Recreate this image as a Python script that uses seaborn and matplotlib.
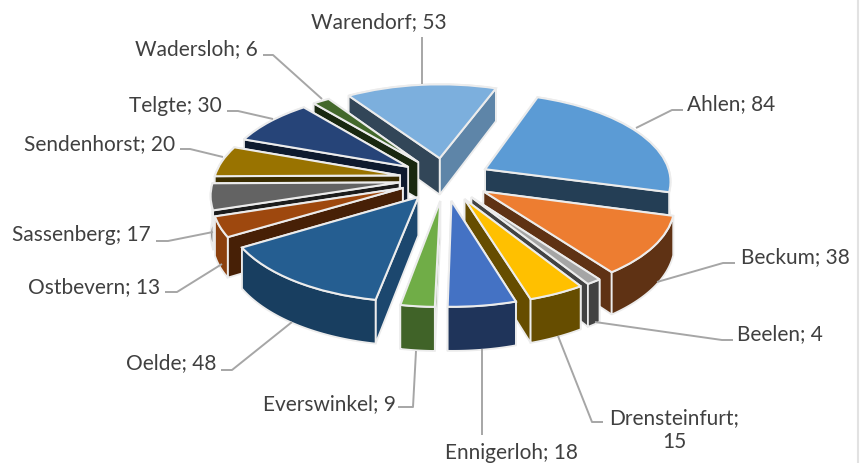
import numpy as np
import matplotlib
matplotlib.use("Agg")
import matplotlib.pyplot as plt
from matplotlib.transforms import Transform
import seaborn as sns

categories = ["Ahlen", "Beckum", "Beelen", "Drensteinfurt", "Ennigerloh", "Everswinkel", "Oelde",
              "Ostbevern", "Sassenberg", "Sendenhorst", "Telgte", "Wadersloh", "Warendorf"]
values = [84, 38, 4, 15, 18, 9, 48, 13, 17, 20, 30, 6, 53]
top_colors = ["#5B9BD5", "#ED7D31", "#A5A5A5", "#FFC000", "#4472C4", "#70AD47", "#255E91",
              "#9E480E", "#636363", "#997300", "#264478", "#43682B", "#7CAFDD"]
side_factors = [0.40, 0.40, 0.40, 0.40, 0.46, 0.57, 0.66, 0.45, 0.28, 0.38, 0.38, 0.38, 0.40]
arc_factors = [0.40, 0.40, 0.40, 0.40, 0.46, 0.57, 0.66, 0.88, 0.50, 0.50, 0.50, 0.50, 0.40]
label_texts = ["Warendorf; 53", "Ahlen; 84", "Beckum; 38", "Beelen; 4", "Drensteinfurt;\n15", "Ennigerloh; 18",
               "Everswinkel; 9", "Oelde; 48", "Ostbevern; 13", "Sassenberg; 17", "Sendenhorst; 20",
               "Telgte; 30", "Wadersloh; 6"]
label_pos = [(311, 22, "left"), (687, 104, "left"), (741, 257, "left"), (737, 334, "left"), (674, 430, "center"),
             (511, 453, "center"), (396, 404, "right"), (216, 363, "right"), (160, 287, "right"),
             (151, 235, "right"), (175, 144, "right"), (222, 106, "right"), (258, 49, "right")]
leaders = [[(422, 38), (422, 85)], [(683, 111), (672, 111), (636, 129)], [(735, 264), (723, 264), (657, 283)],
           [(733, 341), (722, 341), (595, 323)], [(603, 423), (592, 423), (558, 337)], [(482, 436), (482, 350)],
           [(398, 408), (413, 408), (416, 352)], [(221, 371), (232, 371), (292, 323)],
           [(165, 293), (177, 293), (222, 265)], [(156, 242), (168, 242), (213, 233)],
           [(180, 150), (190, 150), (223, 158)], [(227, 112), (238, 112), (273, 120)],
           [(263, 56), (273, 56), (322, 100)]]

sns.set_theme(style="white")
plt.rcParams["font.family"] = ["Lato", "DejaVu Sans"]

CX, CY, R, SQ, K, DEPTH = 445.0, 180.0, 186.0, 0.47, 0.12, 37.5
EXPLODE, START = 0.246, 70.0
EDGE = "#ececec"


def project(x, y, z=0.0):
    w = 1 + K * np.asarray(y)
    return CX + R * np.asarray(x) / w, CY - R * SQ * np.asarray(y) / w + DEPTH * z / w


class Persp(Transform):
    input_dims = output_dims = 2
    is_affine = False
    has_inverse = False

    def transform_non_affine(self, values):
        v = np.asarray(values)
        return np.column_stack(project(v[:, 0], v[:, 1]))


def shade(hex_color, f):
    return tuple(c * f for c in matplotlib.colors.to_rgb(hex_color))


fig = plt.figure(figsize=(8.65, 4.64), dpi=100)
ax = fig.add_axes([0, 0, 1, 1])
palette = sns.color_palette(top_colors)
wedges, _ = ax.pie(values, colors=palette, startangle=START, counterclock=False,
                   explode=[EXPLODE] * len(values), radius=1.0,
                   wedgeprops=dict(edgecolor=EDGE, linewidth=1.5))
ax.set_xlim(0, 865)
ax.set_ylim(464, 0)
ax.set_aspect("auto")
ax.axis("off")
ax.axvline(857.5, color="#e2e2e2", lw=1.5, zorder=1)

persp = Persp()
order = sorted(range(len(wedges)),
               key=lambda i: -(wedges[i].center[1]))
for rank, i in enumerate(order):
    w = wedges[i]
    w.set_transform(persp + ax.transData)
    w.set_zorder(rank * 10 + 5)
    w.set_clip_on(False)
    c0 = np.array(w.center)
    th = np.radians(np.linspace(w.theta1, w.theta2, 40))
    arc = np.column_stack([c0[0] + w.r * np.cos(th), c0[1] + w.r * np.sin(th)])
    nx1 = np.cos(np.radians(w.theta1 - 90))
    nx2 = np.cos(np.radians(w.theta2 + 90))
    faces = [(np.vstack([c0, arc[0]]), 0.76 if nx1 > 0.9 else side_factors[i]),
             (np.vstack([c0, arc[-1]]), 0.76 if nx2 > 0.9 else side_factors[i]),
             (arc, arc_factors[i])]
    drawn = []
    for pts, f in faces:
        xt, yt = project(pts[:, 0], pts[:, 1], 0.0)
        xb, yb = project(pts[:, 0], pts[:, 1], 1.0)
        xs = np.r_[xt, xb[::-1]]
        ys = np.r_[yt, yb[::-1]]
        drawn.append((ys.mean(), xs, ys, f))
    for k, (_, xs, ys, f) in enumerate(sorted(drawn, key=lambda d: d[0])):
        ax.fill(xs, ys, facecolor=shade(top_colors[i], f), edgecolor=EDGE, linewidth=1.3,
                zorder=rank * 10 + 1 + k * 0.5, clip_on=False)

for pts in leaders:
    p = np.array(pts)
    ax.plot(p[:, 0], p[:, 1], color="#a6a6a6", lw=1.4, zorder=500, solid_capstyle="butt")
for txt, (x, y, ha) in zip(label_texts, label_pos):
    ax.text(x, y, txt, ha=ha, va="center", fontsize=15, color="#404040", zorder=600,
            linespacing=1.2, clip_on=False)

fig.savefig("out.png", dpi=100)
